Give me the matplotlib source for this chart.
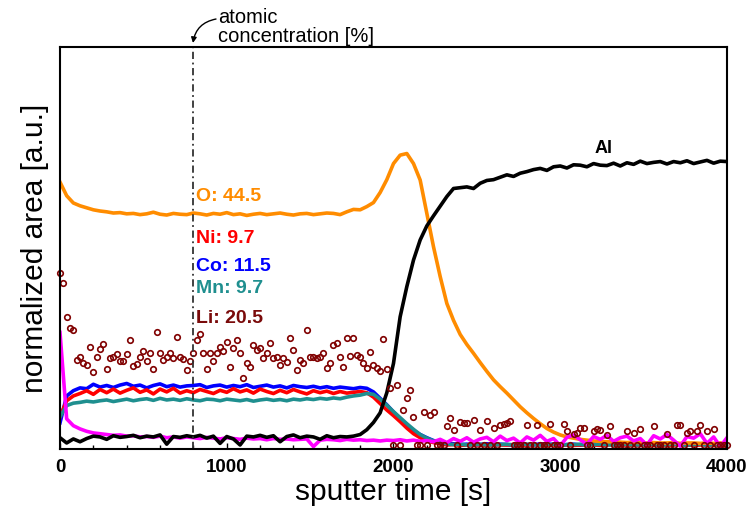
#Perfil de profundidad: area normalizada vs tiempo de sputter
import numpy as np # Para los ejes de tiempo
import matplotlib
matplotlib.use('Agg')
import matplotlib.pyplot as plt #Para graficar

plt.rcParams['font.family'] = ['Liberation Sans', 'DejaVu Sans']

#==========Datos (unidades: 0-100 de la altura del eje)===================================
t_lineas = np.arange(0, 4001, 40) # tiempo de las curvas [s]
t_li = np.arange(0, 4001, 20)     # tiempo de los puntos de Li [s]

O = [66.4, 63.0, 61.2, 60.5, 60.0, 59.5, 59.2, 59.0, 58.7, 58.8, 58.5,
     58.6, 58.3, 58.5, 58.9, 58.4, 58.2, 58.6, 58.4, 58.3, 58.7,
     58.5, 58.2, 58.6, 58.4, 58.8, 58.3, 58.5, 58.1, 58.4, 58.6,
     58.3, 58.5, 58.7, 58.4, 58.2, 58.5, 58.6, 58.3, 58.5, 58.7, 58.6,
     58.3, 59.0, 59.6, 59.5, 60.3, 61.3, 63.8, 67.0, 71.0, 73.1,
     73.5, 71.0, 66.9, 58.6, 50.3, 42.9, 36.2, 32.0, 28.5, 26.0,
     23.8, 21.5, 19.3, 17.2, 15.5, 13.9, 12.2, 10.5, 9.0, 7.6,
     6.3, 5.1, 4.2, 3.5, 3.0, 2.7, 2.4, 2.2,
     2.0, 1.9, 1.8, 1.8, 1.7, 1.6, 1.7, 1.6, 1.5, 1.6,
     1.5, 1.5, 1.6, 1.4, 1.5, 1.5, 1.4, 1.5, 1.4, 1.5, 1.4]

Al = [2.8, 1.5, 2.5, 1.8, 2.6, 3.2, 3.0, 2.4, 3.3, 2.9,
      3.1, 3.4, 2.8, 3.2, 3.0, 3.5, 1.2, 3.1, 2.9, 3.3,
      3.0, 3.4, 2.7, 3.2, 1.4, 3.1, 2.5, 1.0, 3.2, 3.0,
      3.4, 2.9, 3.3, 1.8, 3.1, 3.5, 2.8, 3.2, 3.0, 2.4,
      3.3, 2.8, 3.1, 3.0,
      3.2, 3.6, 4.8, 6.6, 9.0, 14.0, 21.3, 32.9, 40.4, 47.0,
      52.0, 55.5, 58.0, 60.4, 62.8, 64.8, 65.0, 65.2, 64.8, 66.1,
      66.8, 67.0, 67.6, 68.2, 67.8, 68.6, 69.0, 69.5, 69.8, 69.3,
      70.2, 70.4, 69.9, 70.7, 70.6, 70.2, 71.0, 70.6, 70.5, 71.1,
      70.4, 71.2, 70.8, 71.6, 71.0, 71.3, 71.5, 70.9, 71.5, 71.2,
      71.7, 71.0, 71.4, 71.8, 71.1, 71.6, 71.5]

Co = [6.5, 13.2, 14.5, 15.2, 15.0, 16.1, 15.4, 15.8, 15.3, 15.9, 16.3,
      15.6, 15.9, 15.2, 15.8, 16.2, 15.5, 15.9, 15.4, 15.7, 15.8,
      16.0, 15.3, 15.7, 15.9, 15.4, 15.8, 15.5, 16.0, 15.3, 15.6,
      15.9, 15.4, 15.7, 15.2, 15.8, 15.5, 15.3, 15.6, 15.2, 15.5,
      15.1, 15.4, 15.2, 15.0, 15.3,
      15.1, 14.2, 12.6, 11.0, 9.2, 7.6, 6.0, 4.6, 3.6, 2.8, 2.1, 1.7, 1.4, 1.3,
      1.1, 1.2, 1.0, 1.1, 1.3, 1.0, 1.2, 1.1, 0.9, 1.2,
      1.1, 1.0, 1.3, 1.1, 1.2, 0.9, 1.1, 1.2, 1.0, 1.1,
      1.3, 1.0, 1.2, 1.1, 0.9, 1.2, 1.1, 1.0, 1.2, 1.1,
      1.0, 1.3, 1.1, 1.2, 0.9, 1.1, 1.2, 1.0, 1.1, 1.2, 1.1]

Ni = [8.0, 12.0, 13.2, 13.8, 14.5, 13.6, 14.8, 14.0, 14.9, 13.9,
      14.6, 15.2, 14.1, 14.7, 13.7, 14.9, 14.2, 15.1, 13.9, 14.5,
      14.0, 14.8, 14.3, 13.8, 14.6, 14.1, 15.0, 14.2, 14.7, 13.9,
      14.9, 14.3, 13.8, 14.6, 14.0, 14.8, 14.2, 13.7, 14.5, 14.0,
      14.4, 13.8, 14.3, 13.9, 14.1, 14.3, 14.0,
      12.9, 11.3, 9.7, 8.3, 6.8, 5.2, 3.8, 2.8, 2.0, 1.6, 1.3,
      1.0, 1.1, 0.9, 1.0, 1.1, 1.0, 0.9, 1.1, 1.0, 1.0,
      1.1, 0.9, 1.0, 1.1, 1.0, 0.9, 1.0, 1.1, 1.0, 0.9,
      1.0, 1.1, 1.0, 0.9, 1.0, 1.1, 1.0, 1.0, 0.9, 1.1,
      1.0, 1.0, 1.1, 0.9, 1.0, 1.1, 1.0, 0.9, 1.0, 1.1,
      1.0, 1.0, 0.9]

Mn = [8.0, 10.8, 11.4, 11.6, 11.9, 11.7, 12.0, 12.2, 11.8, 12.1,
      12.4, 12.0, 12.3, 12.5, 12.1, 12.6, 12.2, 12.4, 12.1, 12.5,
      12.2, 12.0, 12.4, 12.3, 12.0, 12.4, 12.2, 12.0, 12.3, 11.9,
      12.2, 12.4, 12.1, 12.3, 12.0, 12.4, 12.2, 12.5, 12.3, 12.6,
      12.4, 12.7, 12.5, 12.9, 13.2, 13.4, 13.8, 13.6,
      12.4, 10.9, 9.3, 7.8, 6.3, 4.9, 3.6, 2.7, 2.0, 1.6, 1.3,
      1.1, 1.2, 1.0, 1.1, 1.2, 1.0, 1.1, 1.1, 1.2, 1.0,
      1.1, 1.2, 1.1, 1.0, 1.1, 1.2, 1.0, 1.1, 1.1, 1.2,
      1.0, 1.1, 1.2, 1.1, 1.0, 1.1, 1.2, 1.0, 1.1, 1.1,
      1.2, 1.0, 1.1, 1.2, 1.1, 1.0, 1.1, 1.2, 1.0, 1.1,
      1.1, 1.2]

otro = [29.0, 7.5, 5.8, 5.0, 4.4, 4.0, 3.8, 3.6, 3.4, 3.5,
        3.2, 3.3, 3.0, 3.1, 2.9, 3.2, 2.8, 3.0, 2.7, 3.0,
        2.8, 2.6, 2.9, 2.7, 2.5, 2.8, 2.6, 2.4, 2.7, 2.5,
        2.6, 2.3, 2.6, 2.4, 2.5, 2.3, 2.4, 2.5, 0.6, 2.2,
        2.4, 2.3, 2.1, 2.4, 2.2, 2.3, 2.1, 2.2, 2.0, 2.2,
        2.1, 2.3, 2.0, 2.2, 1.9, 2.1,
        1.8, 2.4, 1.6, 2.6, 1.9, 2.8, 1.7, 2.5, 2.9, 1.8,
        3.2, 2.1, 2.7, 1.5, 3.0, 2.2, 3.4, 1.9, 2.6, 0.8,
        2.9, 3.5, 2.3, 1.2, 3.1, 2.4, 3.4, 1.9, 2.8, 3.2,
        2.0, 2.6, 1.0, 3.3, 2.5, 3.6, 2.2, 0.7, 3.1, 2.7,
        3.8, 1.4, 3.0, 0.6, 2.8]

Li = [43.8, 41.4, 32.9, 30.0, 29.6, 22.1, 23.0, 21.3, 21.0, 25.4,
      19.2, 23.0, 24.9, 26.1, 19.8, 22.6, 23.0, 23.7, 21.8, 21.8,
      23.7, 27.0, 20.6, 21.2, 23.0, 24.3, 22.0, 24.0, 19.8, 29.0,
      23.8, 22.1, 23.0, 23.8, 22.6, 27.8, 22.8, 22.3, 19.6, 21.8,
      23.8, 27.2, 28.5, 23.8, 19.9, 23.8, 22.0, 24.0, 25.3, 24.3,
      26.5,
      20.5, 25.0, 27.0, 23.8, 17.6, 21.3, 20.5, 25.9, 24.6,
      25.0, 22.6, 23.8, 26.3, 22.6, 23.0, 20.9, 22.6, 21.7, 27.5,
      24.6, 19.7, 22.1, 21.3, 29.6, 23.0, 23.0, 22.6, 23.0, 23.8,
      20.1, 21.3, 25.9, 26.3, 23.0, 20.5, 27.5, 23.1, 27.5, 23.4,
      23.0, 21.3, 20.1, 24.2, 21.0, 20.1, 19.5, 27.3, 19.8, 15.1,
      1.0, 15.9, 1.0, 9.7, 12.6, 14.7, 8.0, 1.0, 1.0, 9.3,
      1.0, 8.5, 9.1, 1.0, 1.0, 1.0, 5.6, 7.6, 4.7, 1.0,
      6.6, 6.5, 6.4, 1.0, 7.1, 1.0, 4.7, 1.0, 7.0, 1.0,
      5.2, 1.0, 5.9, 6.1, 6.5, 7.0, 1.0, 1.0, 1.0, 1.0,
      5.9, 1.0, 1.0, 5.9, 1.0, 1.0, 1.0, 6.1, 1.0, 1.0,
      1.0, 6.1, 4.4, 1.0, 3.8, 3.9, 5.2, 5.2, 1.0, 1.0,
      4.4, 5.0, 4.7, 1.0, 3.5, 5.7, 1.0, 1.0, 1.0, 1.0,
      4.4, 1.0, 3.9, 1.0, 5.0, 1.0, 1.0, 1.0, 5.6, 1.0,
      1.0, 1.0, 3.8, 1.0, 1.0, 5.9, 5.9, 1.0, 3.9, 4.4,
      1.0, 4.4, 5.9, 1.0, 4.4, 1.0, 5.0, 1.0, 1.0, 1.0,
      1.0]

# etiquetas de concentracion atomica [%]
etiquetas = ['O: 44.5', 'Ni: 9.7', 'Co: 11.5', 'Mn: 9.7', 'Li: 20.5']
etq_y = [61.8, 51.2, 44.4, 38.7, 31.4]

c_O, c_Ni, c_Co, c_Mn, c_Li, c_otro = '#FF8C00', '#FF0000', '#0000FF', '#1F8F8F', '#800000', '#FF00FF'
colores = [c_O, c_Ni, c_Co, c_Mn, '#7A0A0A']

#==========Figura===============
fig = plt.figure(figsize=(7.5, 5.21), dpi=100)
ax = fig.add_axes([0.08, 0.1382, 0.8893, 0.7716])

lw = 2.6
ax.plot(t_lineas, Co, color=c_Co, lw=lw)
ax.plot(t_lineas, Ni, color=c_Ni, lw=lw)
ax.plot(t_lineas, Mn, color=c_Mn, lw=lw)
ax.plot(t_lineas, O, color=c_O, lw=lw)
ax.plot(t_lineas, otro, color=c_otro, lw=lw)
ax.plot(t_lineas, Al, color='black', lw=lw)
ax.plot(t_li, Li, 'o', mfc='none', mec=c_Li, mew=1.2, ms=4, clip_on=False)

# linea vertical donde se leen las concentraciones
ax.axvline(800, color='#333333', lw=1.3, ls=(0, (4, 2, 1, 2)))

for txt, y, col in zip(etiquetas, etq_y, colores):
    ax.text(818, y, txt, color=col, fontsize=14, fontweight='bold', va='baseline', ha='left')
ax.text(3262, 73.6, 'Al', color='black', fontsize=13, fontweight='bold', va='baseline', ha='center')

ax.set_xlim(0, 4000)
ax.set_ylim(0, 100)
ax.set_yticks([])
ax.set_xticks([0, 1000, 2000, 3000, 4000])
ax.set_xticks(np.arange(0, 4001, 200), minor=True)
ax.tick_params(axis='x', which='both', direction='in', top=False, pad=7, labelsize=13.5)
ax.tick_params(axis='x', which='major', length=4, width=1)
ax.tick_params(axis='x', which='minor', length=3, width=1)
for lab in ax.get_xticklabels():
    lab.set_fontweight('bold')
for s in ax.spines.values():
    s.set_linewidth(1.5)

ax.set_xlabel('sputter time [s]', fontsize=21.5, labelpad=2)
ax.set_ylabel('normalized area [a.u.]', fontsize=21.5, labelpad=8)

# nota de arriba con flecha (un solo texto de dos lineas)
fig.text(0.2907, 0.985, 'atomic\nconcentration [%]', fontsize=14.5, va='top', ha='left',
         linespacing=1.0)
ax.annotate('', xy=(0.2573, 0.9175), xycoords='figure fraction',
            xytext=(0.288, 0.9635), textcoords='figure fraction',
            arrowprops=dict(arrowstyle='-|>', color='black', lw=1, mutation_scale=8,
                            connectionstyle='arc3,rad=0.35', shrinkA=0, shrinkB=0))

fig.savefig('out.png', dpi=100)
